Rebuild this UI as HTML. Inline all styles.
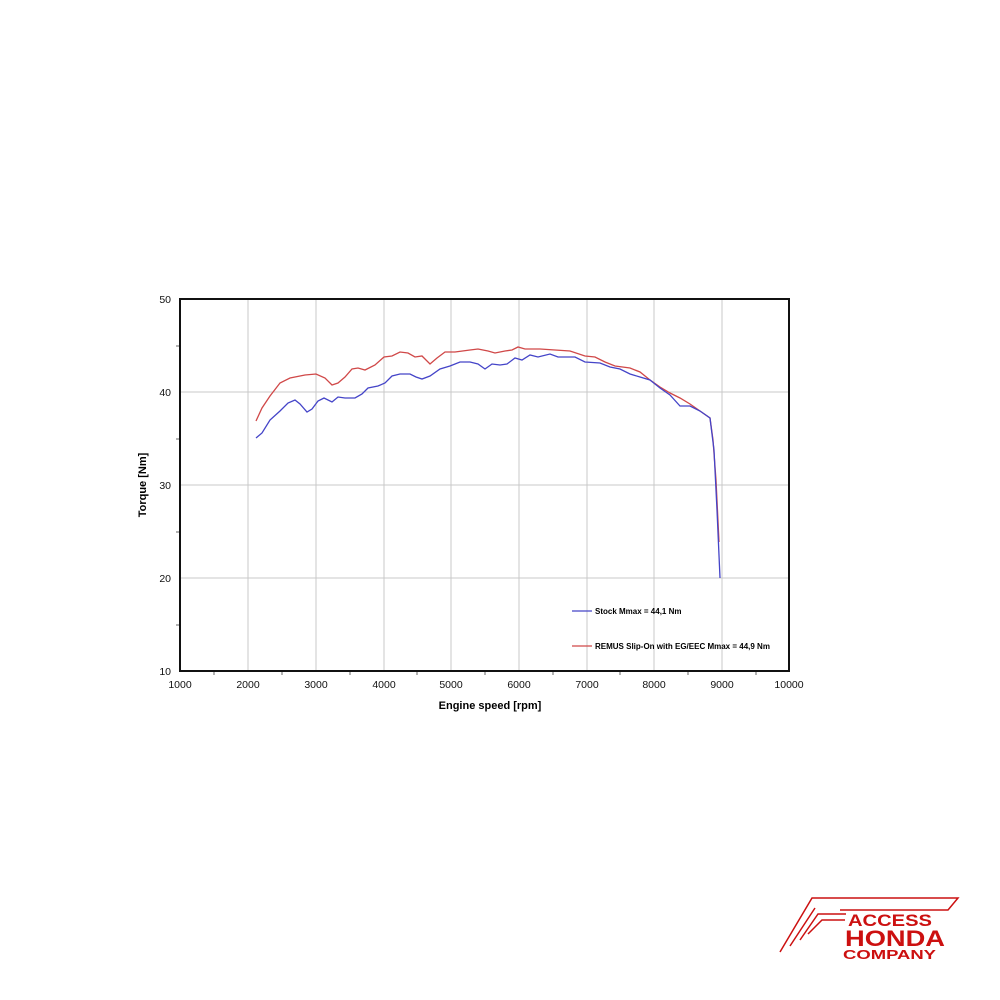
<!DOCTYPE html>
<html><head><meta charset="utf-8"><style>body{margin:0;background:#fff}svg{display:block}</style></head>
<body>
<svg width="1000" height="1000" xmlns="http://www.w3.org/2000/svg" font-family="Liberation Sans, Arial, sans-serif">
<g stroke="#c8c8c8" stroke-width="1">
<line x1="248" y1="299" x2="248" y2="671"/><line x1="316" y1="299" x2="316" y2="671"/><line x1="384" y1="299" x2="384" y2="671"/><line x1="451" y1="299" x2="451" y2="671"/><line x1="519" y1="299" x2="519" y2="671"/><line x1="587" y1="299" x2="587" y2="671"/><line x1="654" y1="299" x2="654" y2="671"/><line x1="722" y1="299" x2="722" y2="671"/>
<line x1="180" y1="392" x2="789" y2="392"/><line x1="180" y1="485" x2="789" y2="485"/><line x1="180" y1="578" x2="789" y2="578"/>
</g>
<g stroke="#666" stroke-width="1">
<line x1="176" y1="346" x2="180" y2="346"/><line x1="176" y1="439" x2="180" y2="439"/><line x1="176" y1="532" x2="180" y2="532"/><line x1="176" y1="625" x2="180" y2="625"/>
<line x1="214" y1="671" x2="214" y2="675"/><line x1="282" y1="671" x2="282" y2="675"/><line x1="350" y1="671" x2="350" y2="675"/><line x1="417" y1="671" x2="417" y2="675"/><line x1="485" y1="671" x2="485" y2="675"/><line x1="553" y1="671" x2="553" y2="675"/><line x1="620" y1="671" x2="620" y2="675"/><line x1="688" y1="671" x2="688" y2="675"/><line x1="756" y1="671" x2="756" y2="675"/>
</g>
<rect x="180" y="299" width="609" height="372" fill="none" stroke="#111" stroke-width="2"/>
<g font-size="10.5" fill="#111" text-anchor="end">
<text x="171" y="303">50</text><text x="171" y="396">40</text><text x="171" y="489">30</text><text x="171" y="582">20</text><text x="171" y="675">10</text>
</g>
<g font-size="10.5" fill="#111" text-anchor="middle">
<text x="180" y="688">1000</text><text x="248" y="688">2000</text><text x="316" y="688">3000</text><text x="384" y="688">4000</text><text x="451" y="688">5000</text><text x="519" y="688">6000</text><text x="587" y="688">7000</text><text x="654" y="688">8000</text><text x="722" y="688">9000</text><text x="789" y="688">10000</text>
</g>
<text x="490" y="709" font-size="11" font-weight="bold" text-anchor="middle">Engine speed [rpm]</text>
<text transform="translate(146,485) rotate(-90)" font-size="11" font-weight="bold" text-anchor="middle">Torque [Nm]</text>
<polyline fill="none" stroke="#d04848" stroke-width="1.3" points="256,421 262,408 270,396 280,383 290,378 305,375 316,374 325,378 332,385 338,383 345,377 352,369 358,368 365,370 375,365 384,357 392,356 400,352 408,353 415,357 422,356 430,364 437,358 445,352 455,352 470,350 478,349 488,351 495,353 505,351 512,350 518,347 525,349 540,349 555,350 570,351 585,356 595,357 605,362 615,366 630,368 640,372 650,380 660,387 670,393 680,398 690,404 700,411 710,418 713,440 716,480 719,542"/>
<polyline fill="none" stroke="#4444c8" stroke-width="1.3" points="256,438 262,433 270,420 280,411 288,403 295,400 300,404 307,412 312,409 318,401 324,398 332,402 338,397 345,398 355,398 362,394 368,388 378,386 385,383 392,376 400,374 410,374 416,377 422,379 430,376 440,369 450,366 460,362 470,362 478,364 485,369 492,364 500,365 507,364 515,358 522,360 530,355 538,357 550,354 558,357 575,357 585,362 600,363 610,367 620,369 630,374 640,377 650,380 660,388 670,395 680,406 690,406 700,411 710,418 714,450 717,510 720,578"/>
<line x1="572" y1="611" x2="592" y2="611" stroke="#4444c8" stroke-width="1.3"/>
<text x="595" y="614" font-size="8" font-weight="bold">Stock Mmax = 44,1 Nm</text>
<line x1="572" y1="646" x2="592" y2="646" stroke="#d04848" stroke-width="1.3"/>
<text x="595" y="649" font-size="8" font-weight="bold">REMUS Slip-On with EG/EEC Mmax = 44,9 Nm</text>
<g fill="none" stroke="#cc1010" stroke-width="1.5">
<path d="M780,952 L812,898 L958,898 L948,910 L840,910"/>
<path d="M790,946 L815,908 M800,940 L818,914 L846,914 M808,934 L822,920 L845,920"/>
</g>
<g fill="#cc1010" font-weight="bold">
<text x="848" y="926" font-size="17" textLength="84" lengthAdjust="spacingAndGlyphs">ACCESS</text>
<text x="845" y="946" font-size="22" textLength="100" lengthAdjust="spacingAndGlyphs">HONDA</text>
<text x="843" y="959" font-size="13" textLength="93" lengthAdjust="spacingAndGlyphs">COMPANY</text>
</g>
</svg>
</body></html>
